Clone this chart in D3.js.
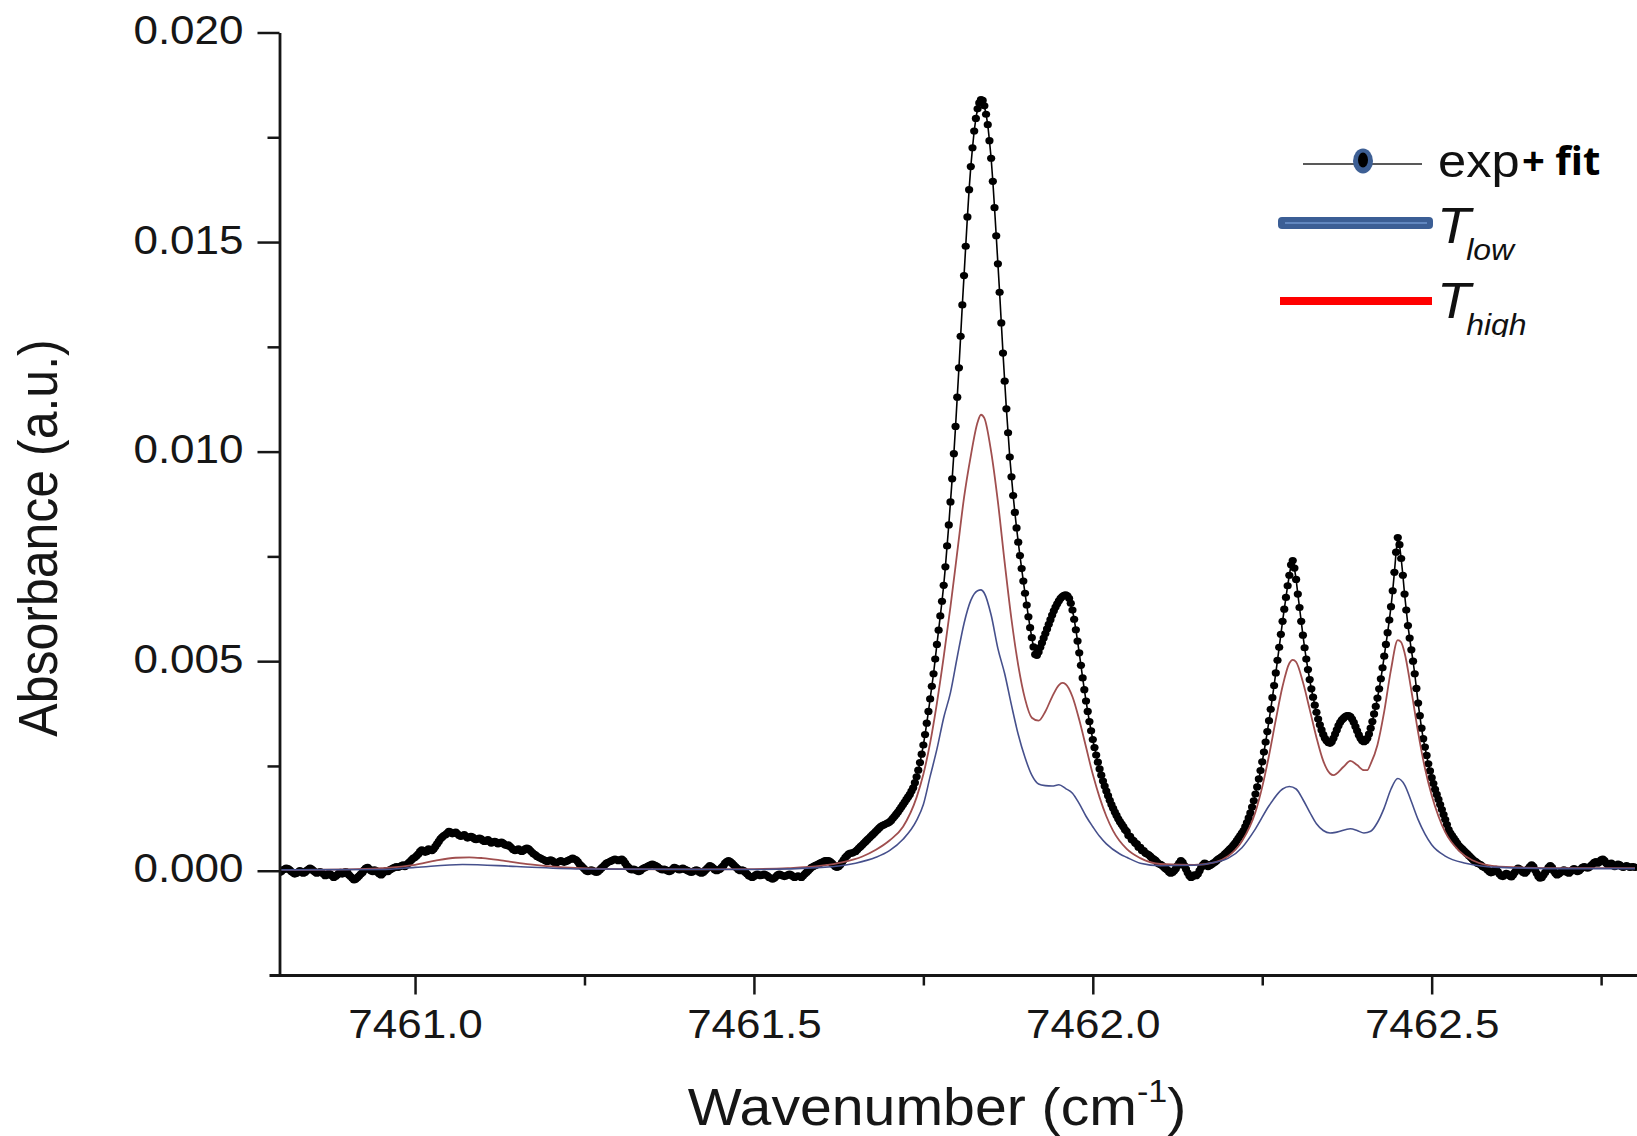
<!DOCTYPE html>
<html><head><meta charset="utf-8">
<script src="https://cdn.jsdelivr.net/npm/d3@7"></script>
<style>html,body{margin:0;padding:0;background:#fff;}svg{display:block;}</style>
</head><body>
<svg id="chart" width="1637" height="1136"></svg>
<script>
// ---- data (absorbance values stored x 1e5) ----
const expStart = 7460.80, expStep = 0.0025;
const expAbs = [
-4,-2,2,4,6,5,2,-2,-5,-8,-6,-3,
0,-2,-6,-4,0,3,6,4,0,-3,-6,-4,
-2,-5,-8,-12,-10,-6,-8,-12,-16,-14,-10,-6,
-4,-8,-6,-2,-4,-10,-14,-18,-22,-20,-16,-12,
-8,-4,2,6,8,4,0,-2,2,0,-4,-8,
-10,-6,-2,0,-2,2,4,6,8,10,8,10,
12,14,10,14,18,22,26,30,32,36,40,46,
50,48,44,46,52,50,48,52,58,64,70,76,
80,84,86,90,94,92,88,90,92,88,84,82,
84,86,82,78,80,82,80,76,74,76,78,76,
72,70,72,74,70,66,68,70,68,64,66,68,
66,62,60,62,58,54,50,48,50,52,48,46,
48,52,54,52,48,44,40,38,34,32,30,28,
26,24,22,24,26,24,20,18,20,22,24,22,
20,22,24,26,28,30,28,26,22,16,12,8,
4,0,-2,0,2,0,-2,-4,-2,2,6,10,
14,18,20,22,24,26,28,26,24,26,28,24,
18,12,8,4,2,4,2,0,-2,0,4,6,
8,10,12,14,16,14,12,10,6,4,2,4,
2,0,-2,0,4,8,6,4,2,4,6,4,
2,0,-2,-4,-2,0,2,0,-4,-6,-4,0,
4,8,12,10,6,2,0,2,4,8,12,18,
22,24,22,18,14,10,6,2,0,2,0,-4,
-8,-12,-14,-16,-14,-10,-8,-10,-12,-10,-8,-10,
-12,-16,-18,-20,-18,-14,-10,-8,-10,-12,-14,-12,
-10,-8,-10,-14,-16,-14,-12,-14,-16,-12,-8,-4,
0,4,8,10,12,14,16,18,20,22,24,24,
24,22,18,14,10,8,10,14,20,26,32,36,
40,42,42,44,46,50,54,58,62,66,70,74,
78,82,86,90,94,98,102,106,108,110,112,114,
116,120,125,130,135,140,146,152,158,164,170,176,
182,190,198,210,224,240,258,278,300,325,352,380,
410,440,470,505,540,574,608,643,681,725,775,825,
880,935,995,1060,1130,1200,1275,1350,1420,1490,1560,1625,
1680,1725,1765,1795,1818,1832,1840,1838,1825,1805,1780,1742,
1700,1645,1582,1515,1448,1380,1307,1235,1168,1102,1045,987,
940,895,855,818,784,752,721,691,662,634,606,580,
556,534,516,514,522,533,544,555,566,577,588,599,
610,620,629,637,644,650,654,657,658,656,650,638,
622,600,575,548,520,490,460,432,405,380,356,334,
313,294,276,259,243,228,214,202,190,179,168,158,
149,140,132,124,117,111,105,98,94,84,82,74,
72,66,64,56,56,48,48,42,40,38,34,30,
28,25,20,16,15,12,8,5,2,-3,-6,-4,
0,5,12,18,24,20,12,4,-5,-12,-16,-14,
-10,-12,-8,0,8,14,18,16,10,12,15,18,
20,24,28,30,33,36,40,44,48,52,56,61,
66,72,78,84,90,96,105,115,126,138,152,167,
183,200,219,239,260,283,307,332,358,385,413,442,
472,502,533,564,595,624,652,680,705,730,740,722,
695,660,628,595,562,532,505,480,456,434,414,395,
378,362,348,336,325,316,310,306,304,308,316,326,
336,346,354,360,364,368,370,370,368,362,354,344,
334,324,316,310,308,310,316,326,340,356,374,392,
412,434,458,484,512,540,568,598,630,668,712,760,
795,778,745,705,660,622,585,555,527,500,470,435,
400,370,340,315,295,275,255,238,222,208,194,182,
170,158,146,134,122,110,98,90,84,78,72,66,
60,56,52,48,44,40,36,32,28,24,22,18,
16,14,10,8,6,2,-2,-5,-3,0,3,-2,
-8,-12,-14,-10,-6,-8,-12,-15,-10,-4,2,6,
4,0,-4,-6,-2,5,10,14,10,2,-6,-14,
-18,-16,-10,-4,2,8,12,8,0,-6,-10,-8,
-4,-2,2,0,-4,-6,-2,2,5,2,-2,0,
4,8,10,8,6,8,12,16,20,22,18,20,
26,28,24,18,14,16,18,14,10,12,16,14,
10,8,10,12,10,8,9,10,8
];
const highWn = [7460.80,7460.90,7460.95,7461.00,7461.03,7461.06,7461.08,7461.10,7461.13,7461.17,7461.22,7461.30,7461.40,7461.50,7461.55,7461.60,7461.63,7461.66,7461.68,7461.70,7461.72,7461.74,7461.75,7461.76,7461.77,7461.78,7461.79,7461.80,7461.81,7461.82,7461.83,7461.835,7461.84,7461.85,7461.86,7461.87,7461.88,7461.89,7461.90,7461.91,7461.92,7461.93,7461.94,7461.95,7461.955,7461.96,7461.97,7461.98,7461.99,7462.00,7462.01,7462.02,7462.03,7462.05,7462.07,7462.10,7462.15,7462.18,7462.20,7462.22,7462.24,7462.25,7462.26,7462.27,7462.28,7462.29,7462.295,7462.30,7462.31,7462.32,7462.33,7462.34,7462.35,7462.355,7462.37,7462.38,7462.39,7462.40,7462.405,7462.41,7462.42,7462.43,7462.44,7462.45,7462.455,7462.46,7462.47,7462.48,7462.49,7462.50,7462.51,7462.52,7462.54,7462.56,7462.60,7462.70,7462.80];
const highAbs = [2,3,6,14,24,31,32,30,24,15,8,4,3,4,6,12,20,34,50,72,105,175,230,305,400,510,630,760,890,990,1070,1088,1080,1000,880,735,600,490,410,365,358,380,415,443,448,445,415,360,295,230,175,130,95,52,30,16,14,20,35,70,140,200,275,360,440,495,503,498,450,385,318,262,232,228,248,262,252,240,240,255,300,380,480,550,545,520,430,330,245,180,130,92,48,25,10,6,6];
const lowWn = [7460.80,7460.95,7461.00,7461.07,7461.15,7461.25,7461.50,7461.60,7461.65,7461.68,7461.70,7461.72,7461.74,7461.75,7461.76,7461.77,7461.78,7461.79,7461.80,7461.81,7461.82,7461.83,7461.835,7461.84,7461.85,7461.86,7461.87,7461.88,7461.89,7461.90,7461.91,7461.92,7461.93,7461.94,7461.95,7461.96,7461.97,7461.98,7461.99,7462.00,7462.01,7462.02,7462.04,7462.05,7462.07,7462.10,7462.15,7462.18,7462.20,7462.22,7462.24,7462.26,7462.28,7462.29,7462.30,7462.31,7462.32,7462.33,7462.34,7462.35,7462.36,7462.38,7462.39,7462.40,7462.41,7462.42,7462.43,7462.44,7462.45,7462.46,7462.47,7462.48,7462.49,7462.50,7462.52,7462.55,7462.60,7462.70,7462.80];
const lowAbs = [2,3,8,15,10,4,3,8,18,32,48,75,120,158,225,290,365,425,510,590,645,668,670,662,610,530,470,395,325,270,228,207,203,202,205,196,185,160,130,105,82,64,40,32,18,12,13,20,30,55,100,155,195,201,195,170,140,112,96,90,92,100,96,90,94,115,150,195,220,205,165,122,88,62,35,18,8,5,5];
const xTicks = [7461.0, 7461.5, 7462.0, 7462.5];
const xTickLabels = ["7461.0", "7461.5", "7462.0", "7462.5"];
const xMinorTicks = [7461.25, 7461.75, 7462.25, 7462.75];
const yTicks = [0, 0.005, 0.010, 0.015, 0.020];
const yTickLabels = ["0.000", "0.005", "0.010", "0.015", "0.020"];
const yMinorTicks = [0.0025, 0.0075, 0.0125, 0.0175];
const xTitle = "Wavenumber (cm", xTitleSup = "-1", xTitleEnd = ")";
const yTitle = "Absorbance (a.u.)";

// ---- build records ----
const expData = expAbs.map((v, i) => ({wn: expStart + i * expStep, abs: v / 1e5}));
const highData = highWn.map((w, i) => ({wn: w, abs: highAbs[i] / 1e5}));
const lowData = lowWn.map((w, i) => ({wn: w, abs: lowAbs[i] / 1e5}));

const W = 1637, H = 1136;
const svg = d3.select("#chart");
const x = d3.scaleLinear().domain([7460.8, 7462.8]).range([279.5, 1635]);
const y = d3.scaleLinear().domain([-0.0025, 0.020]).range([975.5, 32.5]);
const SX = 1.1; // horizontal stretch of the original lettering
const FONT = "'Liberation Sans', Arial, Helvetica, sans-serif";
const AX = "#161616";

svg.append("defs").append("clipPath").attr("id", "plotclip")
  .append("rect").attr("x", x.range()[0]).attr("y", 0).attr("width", W - x.range()[0]).attr("height", y.range()[0]);

// ---- data marks ----
const plot = svg.append("g").attr("clip-path", "url(#plotclip)");
const line = d3.line().x(d => x(d.wn)).y(d => y(d.abs));
const smooth = d3.line().x(d => x(d.wn)).y(d => y(d.abs)).curve(d3.curveMonotoneX);

plot.append("path").datum(expData).attr("d", line)
  .attr("fill", "none").attr("stroke", "#000").attr("stroke-width", 1.6);
plot.append("g").selectAll("ellipse").data(expData).join("ellipse")
  .attr("cx", d => x(d.wn)).attr("cy", d => y(d.abs))
  .attr("rx", 4.1).attr("ry", 3.6).attr("fill", "#000");
plot.append("path").datum(highData).attr("d", smooth)
  .attr("fill", "none").attr("stroke", "#a04f4f").attr("stroke-width", 1.8);
plot.append("path").datum(lowData).attr("d", smooth)
  .attr("fill", "none").attr("stroke", "#46508c").attr("stroke-width", 1.6);

// ---- axes ----
const yAxisG = svg.append("g").attr("transform", `translate(${x.range()[0]},0)`);
yAxisG.call(d3.axisLeft(y).tickValues(yTicks).tickSize(22).tickPadding(14).tickSizeOuter(0)
  .tickFormat((d, i) => yTickLabels[i]));
yAxisG.append("g").call(d3.axisLeft(y).tickValues(yMinorTicks).tickSize(12).tickSizeOuter(0).tickFormat(""))
  .select(".domain").remove();
yAxisG.selectAll(".domain").attr("stroke", AX).attr("stroke-width", 2.8);
yAxisG.selectAll(".tick line").attr("stroke", AX).attr("stroke-width", 2.5);
yAxisG.selectAll(".tick text").attr("x", -36 / SX).attr("dy", "0.28em")
  .attr("transform", `scale(${SX},1)`)
  .attr("font-family", FONT).attr("font-size", 40).attr("fill", AX);

const xAxisG = svg.append("g").attr("transform", `translate(0,${y.range()[0]})`);
xAxisG.call(d3.axisBottom(x).tickValues(xTicks).tickSize(19).tickPadding(15).tickSizeOuter(0)
  .tickFormat((d, i) => xTickLabels[i]));
xAxisG.select(".domain").remove();
xAxisG.append("g").call(d3.axisBottom(x).tickValues(xMinorTicks).tickSize(10).tickSizeOuter(0).tickFormat(""))
  .select(".domain").remove();
xAxisG.append("line").attr("x1", x.range()[0] - 10).attr("x2", W).attr("y1", 0).attr("y2", 0)
  .attr("stroke", AX).attr("stroke-width", 2.8);
xAxisG.selectAll(".tick line").attr("stroke", AX).attr("stroke-width", 2.5);
xAxisG.selectAll(".tick text").attr("transform", `scale(${SX},1)`)
  .attr("font-family", FONT).attr("font-size", 40).attr("fill", AX);

// ---- axis titles ----
svg.append("text").attr("transform", `translate(57,538) scale(${SX},1) rotate(-90)`)
  .attr("text-anchor", "middle").attr("font-family", FONT).attr("font-size", 50).attr("fill", AX)
  .text(yTitle);
const xt = svg.append("text").attr("transform", `translate(937,1125) scale(${SX},1)`)
  .attr("text-anchor", "middle").attr("font-family", FONT).attr("font-size", 52).attr("fill", AX);
xt.append("tspan").text(xTitle);
xt.append("tspan").attr("dy", -23).attr("font-size", 31).text(xTitleSup);
xt.append("tspan").attr("dy", 23).text(xTitleEnd);

// ---- legend ----
svg.select("defs").append("clipPath").attr("id", "legclip")
  .append("rect").attr("x", 1200).attr("y", 100).attr("width", 437).attr("height", 237);
const leg = svg.append("g").attr("clip-path", "url(#legclip)");
// exp + fit
leg.append("line").attr("x1", 1303).attr("x2", 1422).attr("y1", 164).attr("y2", 164)
  .attr("stroke", "#222").attr("stroke-width", 1.6);
leg.append("ellipse").attr("cx", 1363).attr("cy", 161).attr("rx", 10).attr("ry", 12.5)
  .attr("fill", "#3d5f94");
leg.append("ellipse").attr("cx", 1363).attr("cy", 160).attr("rx", 5).attr("ry", 7.5).attr("fill", "#000");
leg.append("text").attr("transform", `translate(1438,177) scale(${SX},1)`)
  .attr("font-family", FONT).attr("font-size", 46).attr("fill", "#111").text("exp");
leg.append("text").attr("transform", "translate(1522,175)")
  .attr("font-family", "'Open Sans', 'Liberation Sans', sans-serif").attr("font-weight", 700)
  .attr("font-size", 40).attr("fill", "#000").text("+ fit");
// T low
leg.append("rect").attr("x", 1278).attr("y", 217).attr("width", 155).attr("height", 12).attr("rx", 4)
  .attr("fill", "#3b5e95");
leg.append("line").attr("x1", 1285).attr("x2", 1427).attr("y1", 223).attr("y2", 223)
  .attr("stroke", "#6f96cf").attr("stroke-width", 1.6);
const tl = leg.append("text").attr("transform", `translate(1437,243) scale(${SX},1)`)
  .attr("font-family", FONT).attr("font-style", "italic").attr("font-size", 50).attr("fill", "#111");
tl.append("tspan").text("T");
tl.append("tspan").attr("dx", -4).attr("dy", 17).attr("font-size", 29).text("low");
// T high
leg.append("rect").attr("x", 1280).attr("y", 297).attr("width", 152).attr("height", 8).attr("fill", "#ff0000");
const th = leg.append("text").attr("transform", `translate(1437,318) scale(${SX},1)`)
  .attr("font-family", FONT).attr("font-style", "italic").attr("font-size", 50).attr("fill", "#111");
th.append("tspan").text("T");
th.append("tspan").attr("dx", -4).attr("dy", 17).attr("font-size", 29).text("high");
</script>
</body></html>
